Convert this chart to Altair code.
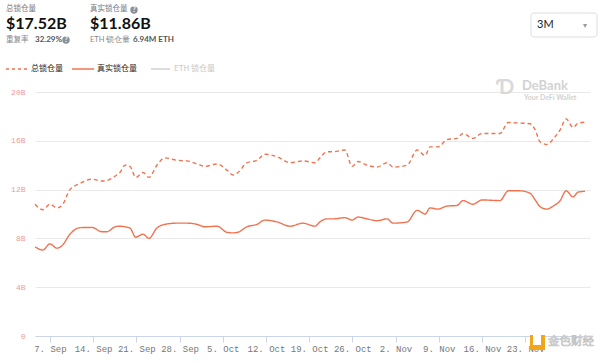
import altair as alt
import pandas as pd

dates = [
    "2020-09-04T14:00", "2020-09-05T21:00", "2020-09-07T00:00", "2020-09-08T03:00", "2020-09-08T23:00",
    "2020-09-10T06:00", "2020-09-11T21:00", "2020-09-13T19:00", "2020-09-15T10:00", "2020-09-16T06:00",
    "2020-09-17T13:00", "2020-09-18T08:00", "2020-09-19T04:00", "2020-09-19T23:00", "2020-09-20T22:00",
    "2020-09-22T02:00", "2020-09-23T01:00", "2020-09-24T08:00", "2020-09-25T15:00", "2020-09-27T14:00",
    "2020-09-29T05:00", "2020-09-30T20:00", "2020-10-02T03:00", "2020-10-04T02:00", "2020-10-05T16:00",
    "2020-10-06T16:00", "2020-10-07T11:00", "2020-10-08T22:00", "2020-10-10T13:00", "2020-10-11T20:00",
    "2020-10-13T19:00", "2020-10-15T22:00", "2020-10-18T00:00", "2020-10-19T23:00", "2020-10-20T18:00",
    "2020-10-21T21:00", "2020-10-22T21:00", "2020-10-24T19:00", "2020-10-25T23:00", "2020-10-26T22:00",
    "2020-10-28T09:00", "2020-10-30T00:00", "2020-10-31T15:00", "2020-11-01T14:00", "2020-11-03T21:00",
    "2020-11-05T12:00", "2020-11-06T19:00", "2020-11-07T14:00", "2020-11-08T21:00", "2020-11-10T08:00",
    "2020-11-11T23:00", "2020-11-12T22:00", "2020-11-14T13:00", "2020-11-16T00:00", "2020-11-18T22:00",
    "2020-11-20T06:00", "2020-11-22T04:00", "2020-11-23T19:00", "2020-11-24T15:00", "2020-11-25T10:00",
    "2020-11-26T13:00", "2020-11-27T13:00", "2020-11-28T16:00", "2020-11-29T15:00", "2020-11-30T18:00",
    "2020-12-01T14:00", "2020-12-02T17:00",
]
total_tvl = [
    10.8, 10.35, 10.8, 10.5, 10.7,
    12.0, 12.5, 12.85, 12.7, 12.75,
    13.1, 13.4, 14.0, 13.9, 13.0,
    13.4, 13.0, 14.0, 14.6, 14.4,
    14.35, 14.1, 13.9, 14.1, 13.6,
    13.2, 13.4, 14.2, 14.4, 14.9,
    14.7, 14.2, 14.35, 14.2, 14.6,
    15.1, 15.1, 15.25, 13.9, 14.3,
    14.0, 13.85, 14.2, 13.85, 14.0,
    15.25, 14.8, 15.5, 15.5, 16.1,
    16.2, 16.6, 16.2, 16.6, 16.6,
    17.5, 17.45, 17.4, 16.9, 15.9,
    15.7, 16.15, 16.9, 17.8, 17.1,
    17.45, 17.52,
]
real_tvl = [
    7.3, 7.05, 7.55, 7.2, 7.4,
    8.35, 8.88, 8.9, 8.55, 8.55,
    8.95, 9.0, 8.95, 8.85, 8.1,
    8.35, 8.0, 8.85, 9.15, 9.25,
    9.25, 9.15, 8.95, 9.0, 8.5,
    8.45, 8.5, 8.95, 9.15, 9.5,
    9.35, 9.0, 9.25, 9.0, 9.35,
    9.6, 9.6, 9.7, 9.5, 9.75,
    9.6, 9.45, 9.6, 9.25, 9.35,
    10.3, 10.0, 10.5, 10.4, 10.65,
    10.7, 11.1, 10.8, 11.15, 11.1,
    11.9, 11.9, 11.7, 11.15, 10.6,
    10.4, 10.65, 11.1, 11.9, 11.4,
    11.8, 11.86,
]
series_names = ["总锁仓量", "真实锁仓量"]
y_ticks = [0, 4, 8, 12, 16, 20]
x_tick_days = [(9, 7), (9, 14), (9, 21), (9, 28), (10, 5), (10, 12), (10, 19),
               (10, 26), (11, 2), (11, 9), (11, 16), (11, 23)]

df = pd.DataFrame({
    "date": dates * 2,
    "series": [series_names[0]] * len(dates) + [series_names[1]] * len(dates),
    "value": total_tvl + real_tvl,
})

LINE = "#f0734f"
W, H = 555, 244
FONT = "Lato"
CJK = "Noto Sans CJK SC"

x_scale = alt.Scale(domain=[alt.DateTime(year=2020, month=9, date=4, hours=14),
                            alt.DateTime(year=2020, month=12, date=3, hours=12)], nice=False)

lines = alt.Chart(df).mark_line(interpolate="monotone", strokeWidth=1.4, color=LINE).encode(
    x=alt.X("date:T", scale=x_scale,
            axis=alt.Axis(values=[alt.DateTime(year=2020, month=m, date=d) for m, d in x_tick_days],
                          format="%-d. %b", title=None, grid=False, domainColor="#ccd6eb",
                          tickColor="#ccd6eb", tickSize=6, labelFont="Liberation Mono",
                          labelFontSize=9, labelColor="#777777", labelPadding=2,
                          labelFlush=False)),
    y=alt.Y("value:Q", scale=alt.Scale(domain=[0, 20], nice=False),
            axis=alt.Axis(values=y_ticks, title=None, domain=False, ticks=False,
                          labelExpr="datum.value == 0 ? '0' : datum.value + 'B'",
                          labelFont="Liberation Mono", labelFontSize=8, labelColor="#f19a94",
                          labelPadding=10, gridColor="#e9e9e9", gridWidth=1)),
    detail="series:N",
    strokeDash=alt.StrokeDash("series:N", scale=alt.Scale(domain=series_names, range=[[4, 3], [1, 0]]),
                              legend=None),
)

def txt(x, y, s, size=9, color="#333", weight="normal", font=FONT, align="left", **extra):
    return alt.Chart(pd.DataFrame({"t": [s]})).mark_text(
        align=align, baseline="middle", fontSize=size, color=color, fontWeight=weight, font=font,
        **extra
    ).encode(x=alt.value(x - 35), y=alt.value(y - 92), text="t:N")

def rule(x1, x2, y, color, dash=None, width=1.5):
    kw = dict(color=color, strokeWidth=width)
    if dash:
        kw["strokeDash"] = dash
    return alt.Chart(pd.DataFrame({"a": [0]})).mark_rule(**kw).encode(
        x=alt.value(x1 - 35), x2=alt.value(x2 - 35), y=alt.value(y - 92))

def circle(x, y, color="#8a8f99"):
    return alt.Chart(pd.DataFrame({"a": [0]})).mark_point(
        filled=True, size=55, color=color, opacity=1).encode(x=alt.value(x - 35), y=alt.value(y - 92))

layers = [lines]
# header
layers += [
    txt(6, 9, "总锁仓量", 7.5, "#777", font=CJK),
    txt(6, 24, "$17.52B", 16, "#111", "bold"),
    txt(6, 40, "重复率", 7.5, "#888", font=CJK),
    txt(35, 40, "32.29%", 8, "#555", "bold"),
    circle(66, 40), txt(66, 40, "?", 7, "#fff", "bold", align="center"),
    txt(90, 9, "真实锁仓量", 7.5, "#777", font=CJK),
    circle(134, 10), txt(134, 10, "?", 7, "#fff", "bold", align="center"),
    txt(90, 24, "$11.86B", 16, "#111", "bold"),
    txt(90, 40, "ETH 锁仓量", 7.5, "#888"),
    txt(133, 40, "6.94M ETH", 8, "#555", "bold"),
]
# dropdown
layers.append(alt.Chart(pd.DataFrame({"a": [0]})).mark_rect(
    fill="white", stroke="#dddddd", strokeWidth=1, cornerRadius=3).encode(
    x=alt.value(531 - 35), x2=alt.value(597 - 35), y=alt.value(13 - 92), y2=alt.value(37 - 92)))
layers += [txt(537, 25, "3M", 11, "#222"), txt(585, 26, "▾", 8, "#999", align="center")]
# legend
layers += [
    rule(6, 28, 69, LINE, [3, 3]), txt(31, 69, "总锁仓量", 8, "#222", font=CJK),
    rule(72, 94, 69, LINE), txt(97, 69, "真实锁仓量", 8, "#222", font=CJK),
    rule(151, 170, 69, "#d0d0d0"), txt(174, 69, "ETH  锁仓量", 8, "#c8c8c8", font=CJK),
]
# watermarks
layers += [
    txt(505, 88, "Ɗ", 20, "#d9d9d9", "bold", align="center"),
    txt(522, 86, "DeBank", 13, "#d2d2d2", "bold"),
    txt(524, 98, "Your DeFi Wallet", 7, "#d2d2d2", "bold"),
]
layers.append(alt.Chart(pd.DataFrame({"a": [0]})).mark_rect(fill="#f2a516").encode(
    x=alt.value(530 - 35), x2=alt.value(545 - 35), y=alt.value(335 - 92), y2=alt.value(350 - 92)))
layers.append(alt.Chart(pd.DataFrame({"a": [0]})).mark_rect(fill="white").encode(
    x=alt.value(533 - 35), x2=alt.value(541 - 35), y=alt.value(335 - 92), y2=alt.value(345 - 92)))
layers.append(txt(548, 342, "金色财经", 11.5, "#f4f4f4", font=CJK, stroke="#c4c4c4", strokeWidth=0.7))

chart = alt.layer(*layers).properties(
    width=W, height=H,
    autosize=alt.AutoSizeParams(type="none"),
    padding={"left": 35, "top": 92, "right": 10, "bottom": 27},
).configure(font=FONT, background="white").configure_view(stroke=None)

chart.save("out.html", embed_options={"renderer": "svg", "actions": False})
